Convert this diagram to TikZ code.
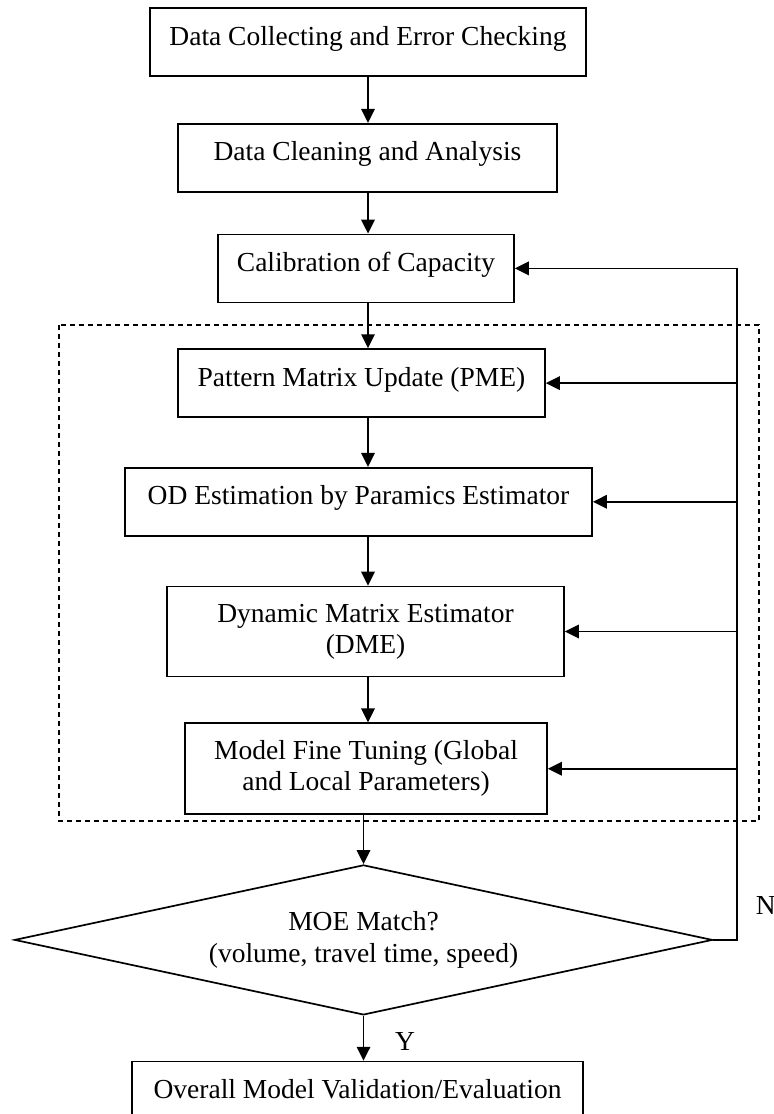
\documentclass[tikz,border=0pt]{standalone}
\usepackage{fontspec}
\setmainfont{Liberation Serif}
\usetikzlibrary{positioning,arrows.meta,shapes.geometric}

\begin{document}
\begin{tikzpicture}[
                  x=0.5pt,y=-0.5pt,
                  font=\fontsize{13.75pt}{15.5pt}\selectfont,
                  stage/.style={draw,line width=0.85pt,align=center,inner sep=0pt,minimum height=34pt},
                  oneline/.style={text height=9.5pt,text depth=6.5pt},
                  decide/.style={draw,diamond,line width=0.85pt,align=center,inner sep=0pt,aspect=4.65,
                                 minimum width=349pt,minimum height=75pt,font=\fontsize{13.75pt}{16pt}\selectfont},
                  flow/.style={-{Triangle[length=7pt,width=6.75pt]},line width=0.9pt},
                  lbl/.style={inner sep=0pt}
                ]
                \useasboundingbox (0,0) rectangle (774,1114);
                \clip (0,0) rectangle (774,1114);

                \node[stage,oneline,minimum width=218pt] (b1) at (368,42) {Data Collecting and Error Checking};
                \node[stage,oneline,minimum width=189.5pt,below=23pt of b1,xshift=-0.25pt] (b2) {Data Cleaning and Analysis};
                \node[stage,oneline,minimum width=148pt,below=20.5pt of b2,xshift=-0.75pt] (b3) {Calibration of Capacity};
                \node[stage,oneline,minimum width=183.5pt,below=22.5pt of b3,xshift=-2.25pt] (b4) {Pattern Matrix Update (PME)};
                \node[stage,oneline,minimum width=233.5pt,below=24.5pt of b4,xshift=-1.5pt] (b5) {OD Estimation by Paramics Estimator};
                \node[stage,minimum width=198.5pt,minimum height=45pt,below=24.5pt of b5,xshift=3.5pt] (b6) {Dynamic Matrix Estimator\\(DME)};
                \node[stage,minimum width=181pt,minimum height=45.5pt,below=22.5pt of b6,xshift=0.25pt] (b7) {Model Fine Tuning (Global\\and Local Parameters)};
                \node[decide,below=24.5pt of b7,xshift=-1.25pt] (moe) {MOE Match?\\(volume, travel time, speed)};
                \node[stage,oneline,minimum width=225.5pt,below=22.5pt of moe,xshift=-3pt] (b8) {Overall Model Validation/Evaluation};

                % dashed frame round the estimation steps
                \draw[line width=0.7pt,dash pattern=on 2.5pt off 2pt] (59,325) rectangle (759,821);

                % main flow
                \coordinate (axis) at (b1.south);
                \foreach \u/\v in {b1/b2,b2/b3,b3/b4,b4/b5,b5/b6,b6/b7}
                  \draw[flow] (\u.south -| axis) -- (\v.north -| axis);
                \draw[flow] (b7.south -| moe.north) -- (moe.north);
                \draw[flow] (moe.south) -- (b8.north -| moe.south);

                % feedback when MOE does not match
                \coordinate (fb) at ([xshift=12pt]moe.east);
                \draw[line width=0.9pt] (moe.east) -- (fb) -- (fb |- b3.east);
                \foreach \s in {b3,b4,b5,b6,b7}
                  \draw[flow] (fb |- \s.east) -- (\s.east);

                \node[lbl] (ylab) at ([xshift=20.75pt,yshift=-13pt]moe.south) {Y};
                \node[lbl,anchor=west] (nlab) at ([xshift=9pt,yshift=17pt]fb) {N};
                \end{tikzpicture}
\end{document}
